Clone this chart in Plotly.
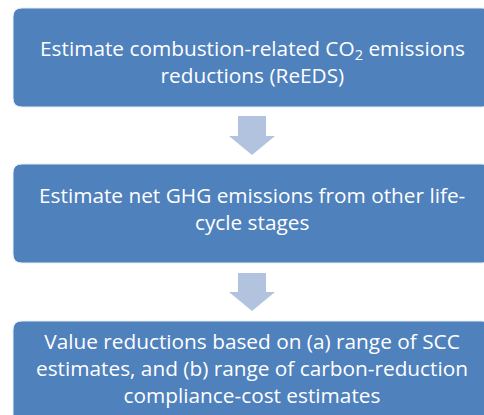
import plotly.graph_objects as go

# Flowchart content
steps = [
    "Estimate combustion-related CO<sub>2</sub> emissions<br>reductions (ReEDS)",
    "Estimate net GHG emissions from other life-<br>cycle stages",
    "Value reductions based on (a) range of SCC<br>estimates, and (b) range of carbon-reduction<br>compliance-cost estimates",
]
box_top = [8, 164, 321]
box_bottom = [107, 263, 430]
text_y = [61, 208, 368]
arrow_top = [116, 273]
arrow_tip = [155, 311]

W, H = 484, 415
BOX_L, BOX_R = 13, 491
CX = 252
FILL = "#4F81BD"
ARROW = "#B1C3DF"


def rrect(x0, y0, x1, y1, r):
    return (f"M {x0+r},{y0} L {x1-r},{y0} Q {x1},{y0} {x1},{y0+r} "
            f"L {x1},{y1-r} Q {x1},{y1} {x1-r},{y1} L {x0+r},{y1} "
            f"Q {x0},{y1} {x0},{y1-r} L {x0},{y0+r} Q {x0},{y0} {x0+r},{y0} Z")


shapes = []
for t, b in zip(box_top, box_bottom):
    shapes.append(dict(type="path", path=rrect(BOX_L, t, BOX_R, b, 9),
                       fillcolor=FILL, line=dict(color="#E6ECF5", width=1),
                       xref="x", yref="y"))
for at, tip in zip(arrow_top, arrow_tip):
    hs = tip - 19
    p = (f"M {CX-14},{at} L {CX+14},{at} L {CX+14},{hs} L {CX+23},{hs} "
         f"L {CX},{tip} L {CX-23},{hs} L {CX-14},{hs} Z")
    shapes.append(dict(type="path", path=p, fillcolor=ARROW,
                       line=dict(width=0), xref="x", yref="y"))

annotations = []
for s, y in zip(steps, text_y):
    annotations.append(dict(x=CX, y=y, xref="x", yref="y", text=s,
                            showarrow=False, align="center",
                            font=dict(family="Open Sans, sans-serif",
                                      size=20.8, color="white")))

fig = go.Figure()
fig.update_layout(
    width=W, height=H, autosize=False,
    margin=dict(l=0, r=0, t=0, b=0, pad=0),
    paper_bgcolor="white", plot_bgcolor="white",
    xaxis=dict(range=[0, W], visible=False, fixedrange=True),
    yaxis=dict(range=[H, 0], visible=False, fixedrange=True),
    shapes=shapes, annotations=annotations, showlegend=False,
)
fig.write_html(
    "out.html",
    config={"displayModeBar": False, "responsive": False},
    post_script="document.body.style.margin='0';document.body.style.overflow='hidden';",
)
